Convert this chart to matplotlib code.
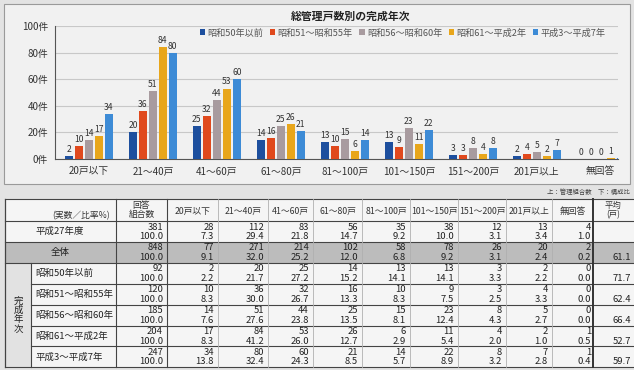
import numpy as np
import matplotlib
matplotlib.use('Agg')
import matplotlib.pyplot as plt
from matplotlib.patches import Rectangle

plt.rcParams['font.family'] = ['Noto Sans CJK JP', 'DejaVu Sans']

# 総管理戸数の区分
sizes = ['20戸以下', '21～40戸', '41～60戸', '61～80戸', '81～100戸',
         '101～150戸', '151～200戸', '201戸以上', '無回答']
# 完成年次
periods = ['昭和50年以前', '昭和51～昭和55年', '昭和56～昭和60年',
           '昭和61～平成2年', '平成3～平成7年']
colors = ['#1d4f9e', '#e0491d', '#a89b9f', '#e8a61b', '#3d8bd6']

# 表の行（上：管理組合数　下：構成比）
row_labels = ['平成27年度', '全体'] + periods
answers = [381, 848, 92, 120, 185, 204, 247]
counts = [
    [28, 112, 83, 56, 35, 38, 12, 13, 4],
    [77, 271, 214, 102, 58, 78, 26, 20, 2],
    [2, 20, 25, 14, 13, 13, 3, 2, 0],
    [10, 36, 32, 16, 10, 9, 3, 4, 0],
    [14, 51, 44, 25, 15, 23, 8, 5, 0],
    [17, 84, 53, 26, 6, 11, 4, 2, 1],
    [34, 80, 60, 21, 14, 22, 8, 7, 1],
]
ratios = [
    [7.3, 29.4, 21.8, 14.7, 9.2, 10.0, 3.1, 3.4, 1.0],
    [9.1, 32.0, 25.2, 12.0, 6.8, 9.2, 3.1, 2.4, 0.2],
    [2.2, 21.7, 27.2, 15.2, 14.1, 14.1, 3.3, 2.2, 0.0],
    [8.3, 30.0, 26.7, 13.3, 8.3, 7.5, 2.5, 3.3, 0.0],
    [7.6, 27.6, 23.8, 13.5, 8.1, 12.4, 4.3, 2.7, 0.0],
    [8.3, 41.2, 26.0, 12.7, 2.9, 5.4, 2.0, 1.0, 0.5],
    [13.8, 32.4, 24.3, 8.5, 5.7, 8.9, 3.2, 2.8, 0.4],
]
averages = [None, 61.1, 71.7, 62.4, 66.4, 52.7, 59.7]

W, H = 634, 370
fig = plt.figure(figsize=(W / 100, H / 100), dpi=100)
fig.patch.set_facecolor('#e3e3e3')

# 背景・表用のピクセル座標の軸
ov = fig.add_axes([0, 0, 1, 1], zorder=0)
ov.set_xlim(0, W)
ov.set_ylim(H, 0)
ov.axis('off')

# グラフ枠
ov.add_patch(Rectangle((4, 4), 626, 180, facecolor='#f1f1f1', edgecolor='#9a9a9a', lw=0.8))
ov.text(351, 16, '総管理戸数別の完成年次', ha='center', va='center', fontsize=7.8,
        fontweight='bold', color='#222222')

# 棒グラフ
ax = fig.add_axes([55 / W, 1 - 159 / H, 563 / W, 133 / H], zorder=1)
ax.set_facecolor('none')
x = np.arange(len(sizes))
step, width = 0.156, 0.125
chart = counts[2:]
for i, (p, vals) in enumerate(zip(periods, chart)):
    bars = ax.bar(x + (i - 2) * step, vals, width, color=colors[i], label=p, zorder=3)
    ax.bar_label(bars, padding=1.5, fontsize=6.2, color='#333333')
ax.set_xlim(-0.53, 8.27)
ax.set_ylim(0, 100)
ax.set_yticks(range(0, 101, 20))
ax.set_yticklabels([f'{v}件' for v in range(0, 101, 20)], fontsize=7, color='#333333')
ax.set_xticks(x)
ax.set_xticklabels(sizes, fontsize=7, color='#333333')
ax.tick_params(length=0, pad=5)
ax.grid(axis='y', color='#c8c8c8', lw=0.8, zorder=0)
for s in ['top', 'right']:
    ax.spines[s].set_visible(False)
ax.spines['left'].set_color('#555555')
ax.spines['bottom'].set_color('#555555')
ax.legend(ncol=5, loc='center right', bbox_to_anchor=(614 / W, 1 - 33 / H),
          bbox_transform=fig.transFigure, frameon=False, fontsize=6.6,
          handlelength=0.6, handleheight=0.6, handletextpad=0.25,
          columnspacing=0.7, labelcolor='#555555')

# 表
cols = [5, 31, 116, 167, 218, 268, 313, 362, 410, 458, 506, 552, 593, 660]
top, head_h, row_h = 199, 22, 20.9
rows_y = [top + head_h + k * row_h for k in range(len(row_labels) + 1)]
bottom = rows_y[-1]

ov.add_patch(Rectangle((5, top), 640, bottom - top, facecolor='#f5f5f5', edgecolor='none'))
ov.add_patch(Rectangle((5, rows_y[1]), 640, row_h, facecolor='#bcbcbc', edgecolor='none'))
ov.add_patch(Rectangle((5, rows_y[2]), 26, bottom - rows_y[2], facecolor='#e2e2e2', edgecolor='none'))

ov.text(630, 192, '上：管理組合数　下：構成比', ha='right', va='center', fontsize=4.6, color='#444444')

lc = '#444444'
for yy in [top] + rows_y[:3] + [bottom]:
    ov.plot([5, 660], [yy, yy], color=lc, lw=0.8)
for yy in rows_y[3:-1]:
    ov.plot([31, 660], [yy, yy], color=lc, lw=0.8)
ov.plot([5, 5], [top, bottom], color=lc, lw=0.9)
ov.plot([31, 31], [rows_y[2], bottom], color=lc, lw=0.8)
ov.plot([116, 116], [top, bottom], color=lc, lw=0.8)
ov.plot([167, 167], [top, bottom], color=lc, lw=0.8)
for cx in cols[4:12]:
    ov.plot([cx, cx], [top, bottom], color='#b0b0b0', lw=0.6)
ov.plot([593, 593], [top, bottom], color='#333333', lw=1.4)

# 見出し
ov.text(110, top + head_h - 5, '(実数／比率%)', ha='right', va='center', fontsize=6.3, color='#333333')
ov.text(141.5, top + head_h / 2, '回答\n組合数', ha='center', va='center', fontsize=6.3,
        color='#333333', linespacing=1.1)
for j, s in enumerate(sizes):
    ov.text((cols[j + 3] + cols[j + 4]) / 2, top + head_h / 2 + 1, s, ha='center', va='center',
            fontsize=6.3, color='#333333')
ov.text(613, top + head_h / 2, '平均\n(戸)', ha='center', va='center', fontsize=6.0,
        color='#333333', linespacing=1.1)

# 行
for r, lab in enumerate(row_labels):
    y0 = rows_y[r]
    if r < 2:
        ov.text(60, y0 + row_h / 2, lab, ha='center', va='center', fontsize=6.8, color='#222222')
    else:
        ov.text(35, y0 + row_h / 2, lab, ha='left', va='center', fontsize=6.8, color='#222222')
    ov.text(163, y0 + 6, str(answers[r]), ha='right', va='center', fontsize=6.8, color='#222222')
    ov.text(163, y0 + 15.5, '100.0', ha='right', va='center', fontsize=6.8, color='#222222')
    for j in range(len(sizes)):
        xr = cols[j + 4] - 4 if j < 8 else 591
        ov.text(xr, y0 + 6, str(counts[r][j]), ha='right', va='center', fontsize=6.8, color='#222222')
        ov.text(xr, y0 + 15.5, f'{ratios[r][j]:.1f}', ha='right', va='center', fontsize=6.8,
                color='#222222')
    if averages[r] is not None:
        ov.text(631, y0 + 15.5, f'{averages[r]:.1f}', ha='right', va='center', fontsize=6.8,
                color='#222222')

ov.text(18, (rows_y[2] + bottom) / 2, '完\n成\n年\n次', ha='center', va='center', fontsize=6.8,
        color='#222222', linespacing=1.05)

fig.savefig('out.png', dpi=100, facecolor=fig.get_facecolor())
